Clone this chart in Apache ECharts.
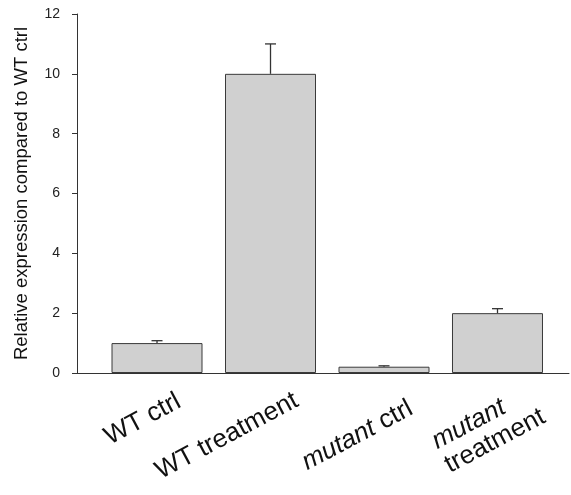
<!DOCTYPE html>
<html><head><meta charset="utf-8">
<script src="https://cdn.jsdelivr.net/npm/echarts@6/dist/echarts.min.js"></script>
<style>html,body{margin:0;padding:0;background:#fff}#c{width:571px;height:495px}</style>
</head><body><div id="c"></div>
<script>
const categories = ['WT ctrl', 'WT treatment', 'mutant ctrl', 'mutant treatment'];
const means = [1.0, 10.0, 0.21, 2.0];
const errTops = [1.08, 11.0, 0.24, 2.15];
const yTicks = [0, 2, 4, 6, 8, 10, 12];

const labelRich = ['WT ctrl', 'WT treatment', '{i|mutant} ctrl', '{i|mutant}\ntreatment'];
const labelStyle = [
  {dx: 22, dy: 27, align: 'right', va: 'middle'},
  {dx: 26, dy: 26, align: 'right', va: 'middle'},
  {dx: 27, dy: 34, align: 'right', va: 'middle'},
  {dx: -70, dy: 58, align: 'left', va: 'top'}
];

const chart = echarts.init(document.getElementById('c'));
const font = 'Arial, "Liberation Sans", sans-serif';
const ang = 28 * Math.PI / 180;

chart.setOption({
  animation: false,
  grid: {left: 77, top: 14, right: 2, bottom: 122, containLabel: false},
  xAxis: {
    type: 'value', min: -0.705, max: 3.63,
    axisLine: {show: true, onZero: false, lineStyle: {color: '#333', width: 1}},
    axisTick: {show: false}, axisLabel: {show: false}, splitLine: {show: false}
  },
  yAxis: {
    type: 'value', min: yTicks[0], max: yTicks[yTicks.length - 1], interval: 2,
    name: 'Relative expression compared to WT ctrl',
    nameLocation: 'middle', nameRotate: 90, nameGap: 46,
    nameTextStyle: {fontSize: 18.5, color: '#111', fontFamily: font},
    axisLine: {show: true, onZero: false, lineStyle: {color: '#333', width: 1}},
    axisTick: {show: true, length: 5, lineStyle: {color: '#333'}},
    axisLabel: {fontSize: 14, color: '#222', margin: 17, fontFamily: font},
    splitLine: {show: false}
  },
  series: [
    {
      type: 'bar', barWidth: 91,
      data: means.map((v, i) => [i, v]),
      itemStyle: {color: '#d0d0d0', borderColor: '#3a3a3a', borderWidth: 1}
    },
    {
      type: 'custom',
      data: means.map((v, i) => [i, v, errTops[i]]),
      renderItem: function (params, api) {
        const p0 = api.coord([api.value(0), api.value(1)]);
        const p1 = api.coord([api.value(0), api.value(2)]);
        return {type: 'group', children: [
          {type: 'line', shape: {x1: p0[0], y1: p0[1], x2: p1[0], y2: p1[1]}, style: {stroke: '#333', lineWidth: 1.3}},
          {type: 'line', shape: {x1: p1[0] - 5.5, y1: p1[1], x2: p1[0] + 5.5, y2: p1[1]}, style: {stroke: '#333', lineWidth: 1.3}}
        ]};
      },
      z: 3
    },
    {
      type: 'custom',
      data: categories.map((c, i) => [i, 0]),
      renderItem: function (params, api) {
        const i = params.dataIndex;
        const p = api.coord([i, 0]);
        const s = labelStyle[i];
        return {
          type: 'text', x: p[0] + s.dx, y: p[1] + s.dy, rotation: ang,
          style: {
            text: labelRich[i], fontSize: 26, fontFamily: font, fill: '#111',
            align: s.align, verticalAlign: s.va, lineHeight: 27,
            rich: {i: {fontStyle: 'italic', fontSize: 26, fontFamily: font, fill: '#111', lineHeight: 27}}
          }
        };
      },
      clip: false, silent: true
    }
  ]
});
</script></body></html>
